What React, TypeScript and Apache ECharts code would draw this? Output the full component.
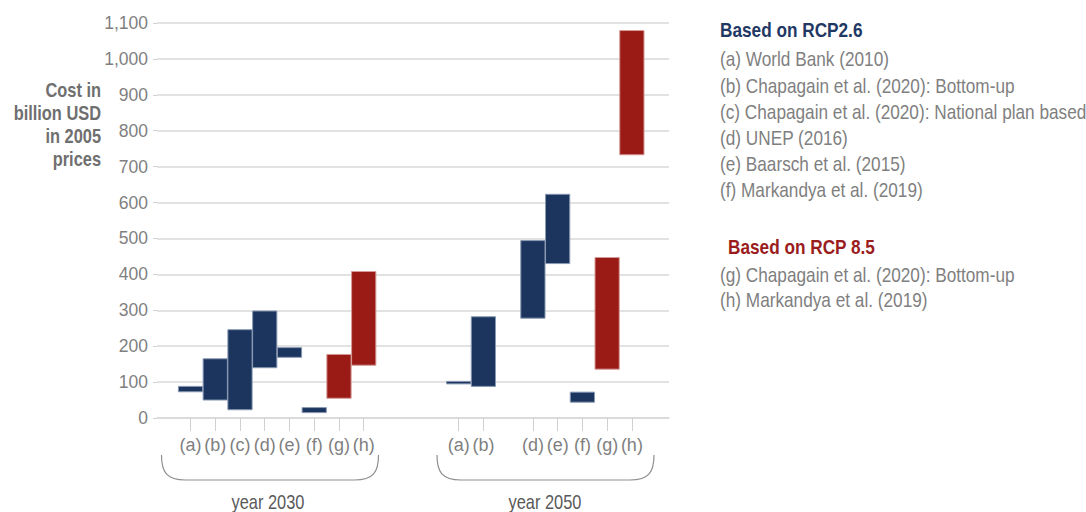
import React, { useEffect, useRef } from "react";
import * as echarts from "echarts";

// ---------- data ----------
const letters = ["(a)", "(b)", "(c)", "(d)", "(e)", "(f)", "(g)", "(h)"];
const scenario = ["RCP2.6", "RCP2.6", "RCP2.6", "RCP2.6", "RCP2.6", "RCP2.6", "RCP8.5", "RCP8.5"];
const low2030 = [73, 50, 23, 140, 169, 15, 55, 147];
const high2030 = [88, 165, 246, 298, 196, 29, 177, 408];
const low2050 = [95, 88, null, 278, 430, 44, 136, 733];
const high2050 = [102, 282, null, 494, 623, 72, 447, 1079];
const years = ["year 2030", "year 2050"];
const yAxisTitle = "Cost in\nbillion USD\nin 2005\nprices";
const legendTitle26 = "Based on RCP2.6";
const legendTitle85 = "Based on RCP 8.5";
const legend26 = [
  "(a) World Bank (2010)",
  "(b) Chapagain et al. (2020): Bottom-up",
  "(c) Chapagain et al. (2020): National plan based",
  "(d) UNEP (2016)",
  "(e) Baarsch et al. (2015)",
  "(f) Markandya et al. (2019)",
];
const legend85 = ["(g) Chapagain et al. (2020): Bottom-up", "(h) Markandya et al. (2019)"];

// ---------- layout ----------
const FONT = "'Liberation Sans', Arial, sans-serif";
const NARROW = 0.82;
const BLUE = "#1c355e";
const RED = "#9a1b16";
const GRAY = "#7f7f7f";
const CLUSTER_START = [1.354, 12.19];
const X_MAX = 20.69;

export default function App() {
  const ref = useRef<HTMLDivElement>(null);

  useEffect(() => {
    if (!ref.current) return;
    echarts.graphic.registerShape(
      "brace",
      echarts.graphic.extendPath("M0,0 C0,17 5,25 24,25 L193,25 C212,25 217,17 217,0", {})
    );
    const chart = echarts.init(ref.current, null, { renderer: "svg" });

    const blueData: number[][] = [];
    const redData: number[][] = [];
    const labelMap: Record<string, string> = {};
    const tickVals: number[] = [];
    [
      [low2030, high2030],
      [low2050, high2050],
    ].forEach(([lows, highs], c) => {
      letters.forEach((l, i) => {
        const lo = lows[i];
        const hi = highs[i];
        if (lo == null || hi == null) return;
        const x = CLUSTER_START[c] + i;
        tickVals.push(x);
        labelMap[x.toFixed(3)] = l;
        (scenario[i] === "RCP2.6" ? blueData : redData).push([x, lo, hi]);
      });
    });

    const renderItem = (fill: string, stroke: string) => (params: any, api: any) => {
      const x = api.value(0);
      const p1 = api.coord([x - 0.49, api.value(2)]);
      const p2 = api.coord([x + 0.49, api.value(1)]);
      return {
        type: "rect",
        shape: { x: p1[0], y: p1[1], width: p2[0] - p1[0], height: p2[1] - p1[1] },
        style: { fill, stroke, lineWidth: 1 },
      };
    };

    const txt = (
      text: string,
      x: number,
      y: number,
      fill: string,
      size: number,
      bold = false,
      align = "left",
      extra: any = {}
    ) => ({
      type: "text",
      x,
      y,
      scaleX: NARROW,
      style: {
        text,
        fill,
        font: `${bold ? "bold " : ""}${size}px ${FONT}`,
        align,
        verticalAlign: "middle",
        ...extra,
      },
    });

    const legendTexts: any[] = [];
    legendTexts.push(txt(legendTitle26, 720, 30, "#1f3864", 21, true));
    const y26 = [59, 85.5, 111.5, 138, 164, 190];
    legend26.forEach((t, i) => legendTexts.push(txt(t, 720, y26[i], GRAY, 21)));
    legendTexts.push(txt(legendTitle85, 728, 247, "#9b1c1c", 21, true));
    const y85 = [275, 300];
    legend85.forEach((t, i) => legendTexts.push(txt(t, 720, y85[i], GRAY, 21)));

    chart.setOption({
      animation: false,
      grid: { left: 157, right: 417, top: 23, bottom: 94 },
      xAxis: {
        type: "value",
        min: 0,
        max: X_MAX,
        splitLine: { show: false },
        axisLine: { show: true, lineStyle: { color: "#d9d9d9", width: 1.5 } },
        axisTick: {
          show: true,
          customValues: tickVals,
          length: 13,
          lineStyle: { color: "#d0d0d0", width: 1 },
        },
        axisLabel: {
          show: true,
          customValues: tickVals,
          margin: 18,
          color: GRAY,
          fontSize: 18,
          fontFamily: FONT,
          formatter: (v: number) => labelMap[v.toFixed(3)] ?? "",
        },
      },
      yAxis: {
        type: "value",
        min: 0,
        max: 1100,
        interval: 100,
        axisLine: { show: false },
        axisTick: { show: true, length: 4, lineStyle: { color: "#d0d0d0" } },
        splitLine: { lineStyle: { color: "#d9d9d9", width: 1.5 } },
        axisLabel: {
          color: GRAY,
          fontSize: 17.5,
          fontFamily: FONT,
          margin: 9,
          formatter: (v: number) => v.toLocaleString("en-US"),
        },
      },
      series: [
        {
          type: "custom",
          name: "RCP2.6",
          renderItem: renderItem(BLUE, "#8a9ab3"),
          data: blueData,
          encode: { x: 0, y: [1, 2] },
        },
        {
          type: "custom",
          name: "RCP8.5",
          renderItem: renderItem(RED, "#d49a97"),
          data: redData,
          encode: { x: 0, y: [1, 2] },
        },
      ],
      graphic: [
        txt(yAxisTitle, 101, 124.5, "#6f6f6f", 20, true, "right", { lineHeight: 23 }),
        ...legendTexts,
        {
          type: "brace",
          x: 161.5,
          y: 455,
          style: { stroke: "#8f8f8f", fill: null, lineWidth: 1.2 },
        },
        {
          type: "brace",
          x: 437,
          y: 455,
          style: { stroke: "#8f8f8f", fill: null, lineWidth: 1.2 },
        },
        txt(years[0], 268, 502, "#595959", 20, false, "center"),
        txt(years[1], 545, 502, "#595959", 20, false, "center"),
      ],
    });

    return () => chart.dispose();
  }, []);

  return (
    <div
      ref={ref}
      style={{ position: "fixed", left: 0, top: 0, width: 1086, height: 512, background: "#fff" }}
    />
  );
}
